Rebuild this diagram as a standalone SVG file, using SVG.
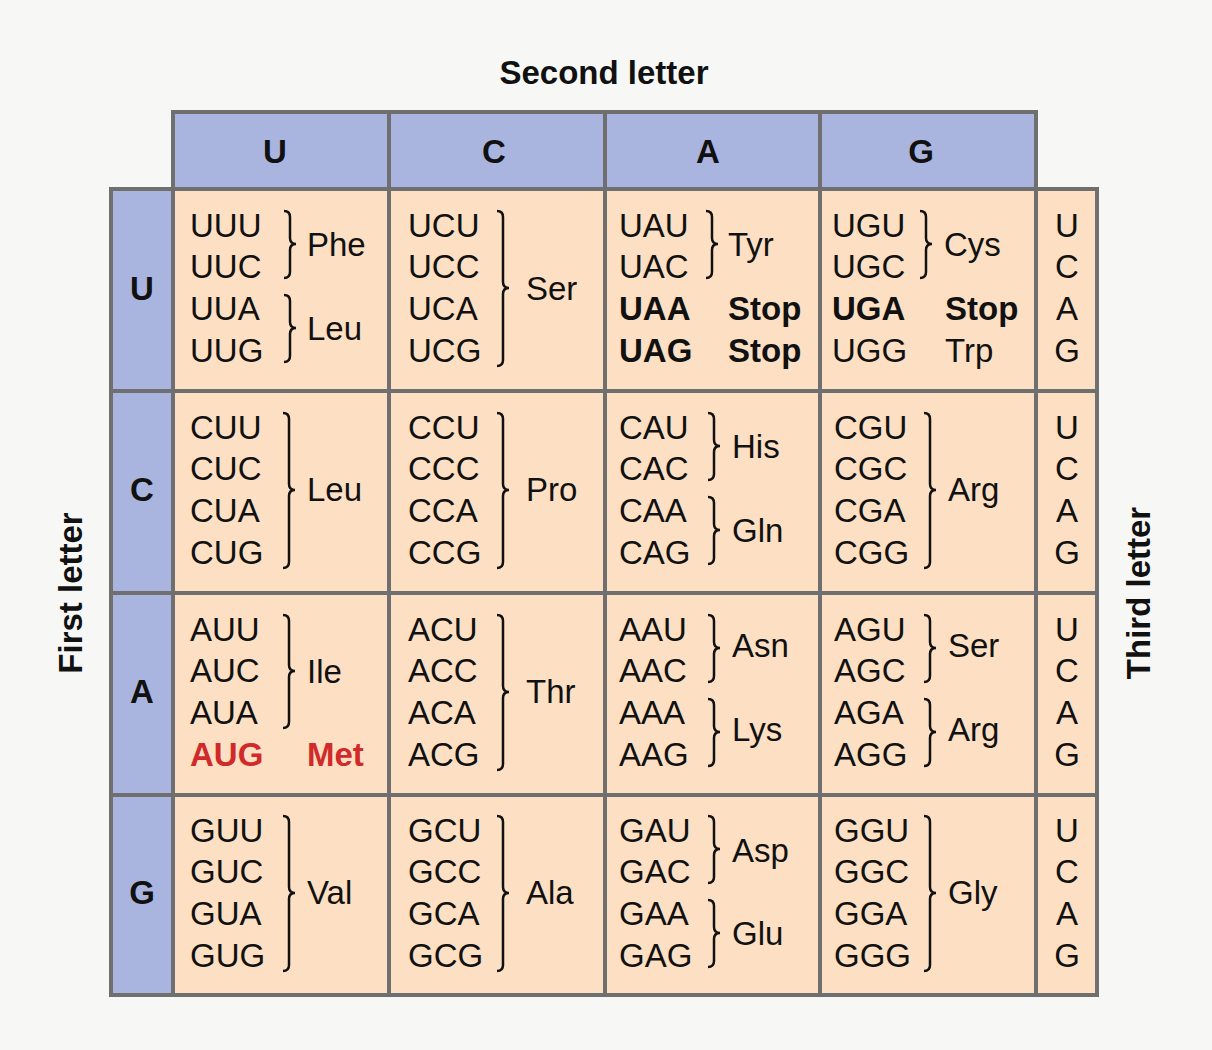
<svg xmlns="http://www.w3.org/2000/svg" width="1212" height="1050" viewBox="0 0 1212 1050">
<style>
text{font-family:"Liberation Sans",Arial,sans-serif;font-size:33px;fill:#111}
.b{font-weight:bold}
.h{font-weight:bold;text-anchor:middle}
.m{text-anchor:middle}
.r{fill:#d02a2a;font-weight:bold}
.hd{fill:#a9b5de;stroke:#6f6f6f;stroke-width:4}
.cl{fill:#fde0c4;stroke:#6f6f6f;stroke-width:4}
.br{fill:none;stroke:#111;stroke-width:2.5}
</style>
<rect width="1212" height="1050" fill="#f7f8f6"/>
<g id="titles">
<text class="h" x="604" y="84" font-size="35">Second letter</text>
<text class="h" transform="translate(82,593) rotate(-90)" font-size="35">First letter</text>
<text class="h" transform="translate(1150,593) rotate(-90)" font-size="35">Third letter</text>
</g>
<g id="headers">
<rect class="hd" x="173" y="112" width="216" height="77"/><text class="h" x="275" y="163">U</text>
<rect class="hd" x="389" y="112" width="216" height="77"/><text class="h" x="494" y="163">C</text>
<rect class="hd" x="605" y="112" width="215" height="77"/><text class="h" x="708" y="163">A</text>
<rect class="hd" x="820" y="112" width="216" height="77"/><text class="h" x="921" y="163">G</text>
<rect class="hd" x="111" y="189" width="62" height="202"/><text class="h" x="142" y="300">U</text>
<rect class="hd" x="111" y="391" width="62" height="202"/><text class="h" x="142" y="501">C</text>
<rect class="hd" x="111" y="593" width="62" height="202"/><text class="h" x="142" y="703">A</text>
<rect class="hd" x="111" y="795" width="62" height="200"/><text class="h" x="142" y="904">G</text>
</g>
<g id="cells">
<rect class="cl" x="173" y="189" width="216" height="202"/><rect class="cl" x="389" y="189" width="216" height="202"/><rect class="cl" x="605" y="189" width="215" height="202"/><rect class="cl" x="820" y="189" width="216" height="202"/><rect class="cl" x="1036" y="189" width="61" height="202"/>
<rect class="cl" x="173" y="391" width="216" height="202"/><rect class="cl" x="389" y="391" width="216" height="202"/><rect class="cl" x="605" y="391" width="215" height="202"/><rect class="cl" x="820" y="391" width="216" height="202"/><rect class="cl" x="1036" y="391" width="61" height="202"/>
<rect class="cl" x="173" y="593" width="216" height="202"/><rect class="cl" x="389" y="593" width="216" height="202"/><rect class="cl" x="605" y="593" width="215" height="202"/><rect class="cl" x="820" y="593" width="216" height="202"/><rect class="cl" x="1036" y="593" width="61" height="202"/>
<rect class="cl" x="173" y="795" width="216" height="200"/><rect class="cl" x="389" y="795" width="216" height="200"/><rect class="cl" x="605" y="795" width="215" height="200"/><rect class="cl" x="820" y="795" width="216" height="200"/><rect class="cl" x="1036" y="795" width="61" height="200"/>
</g>
<g id="third">
<text class="m" x="1067" y="237">U</text><text class="m" x="1067" y="278">C</text><text class="m" x="1067" y="320">A</text><text class="m" x="1067" y="362">G</text>
<text class="m" x="1067" y="439">U</text><text class="m" x="1067" y="480">C</text><text class="m" x="1067" y="522">A</text><text class="m" x="1067" y="564">G</text>
<text class="m" x="1067" y="641">U</text><text class="m" x="1067" y="682">C</text><text class="m" x="1067" y="724">A</text><text class="m" x="1067" y="766">G</text>
<text class="m" x="1067" y="842">U</text><text class="m" x="1067" y="883">C</text><text class="m" x="1067" y="925">A</text><text class="m" x="1067" y="967">G</text>
</g>
<g id="rowU">
<text x="190" y="237">UUU</text><text x="190" y="278">UUC</text><text x="190" y="320">UUA</text><text x="190" y="362">UUG</text>
<text x="307" y="256">Phe</text><text x="307" y="340">Leu</text>
<text x="408" y="237">UCU</text><text x="408" y="278">UCC</text><text x="408" y="320">UCA</text><text x="408" y="362">UCG</text>
<text x="526" y="300">Ser</text>
<text x="619" y="237">UAU</text><text x="619" y="278">UAC</text><text class="b" x="619" y="320">UAA</text><text class="b" x="619" y="362">UAG</text>
<text x="728" y="256">Tyr</text><text class="b" x="728" y="320">Stop</text><text class="b" x="728" y="362">Stop</text>
<text x="832" y="237">UGU</text><text x="832" y="278">UGC</text><text class="b" x="832" y="320">UGA</text><text x="832" y="362">UGG</text>
<text x="944" y="256">Cys</text><text class="b" x="945" y="320">Stop</text><text x="945" y="362">Trp</text>
</g>
<g id="rowC">
<text x="190" y="439">CUU</text><text x="190" y="480">CUC</text><text x="190" y="522">CUA</text><text x="190" y="564">CUG</text><text x="307" y="501">Leu</text>
<text x="408" y="439">CCU</text><text x="408" y="480">CCC</text><text x="408" y="522">CCA</text><text x="408" y="564">CCG</text><text x="526" y="501">Pro</text>
<text x="619" y="439">CAU</text><text x="619" y="480">CAC</text><text x="619" y="522">CAA</text><text x="619" y="564">CAG</text><text x="732" y="458">His</text><text x="732" y="542">Gln</text>
<text x="834" y="439">CGU</text><text x="834" y="480">CGC</text><text x="834" y="522">CGA</text><text x="834" y="564">CGG</text><text x="948" y="501">Arg</text>
</g>
<g id="rowA">
<text x="190" y="641">AUU</text><text x="190" y="682">AUC</text><text x="190" y="724">AUA</text><text class="r" x="190" y="766">AUG</text><text x="307" y="683">Ile</text><text class="r" x="307" y="766">Met</text>
<text x="408" y="641">ACU</text><text x="408" y="682">ACC</text><text x="408" y="724">ACA</text><text x="408" y="766">ACG</text><text x="526" y="703">Thr</text>
<text x="619" y="641">AAU</text><text x="619" y="682">AAC</text><text x="619" y="724">AAA</text><text x="619" y="766">AAG</text><text x="732" y="657">Asn</text><text x="732" y="741">Lys</text>
<text x="834" y="641">AGU</text><text x="834" y="682">AGC</text><text x="834" y="724">AGA</text><text x="834" y="766">AGG</text><text x="948" y="657">Ser</text><text x="948" y="741">Arg</text>
</g>
<g id="rowG">
<text x="190" y="842">GUU</text><text x="190" y="883">GUC</text><text x="190" y="925">GUA</text><text x="190" y="967">GUG</text><text x="307" y="904">Val</text>
<text x="408" y="842">GCU</text><text x="408" y="883">GCC</text><text x="408" y="925">GCA</text><text x="408" y="967">GCG</text><text x="526" y="904">Ala</text>
<text x="619" y="842">GAU</text><text x="619" y="883">GAC</text><text x="619" y="925">GAA</text><text x="619" y="967">GAG</text><text x="732" y="862">Asp</text><text x="732" y="945">Glu</text>
<text x="834" y="842">GGU</text><text x="834" y="883">GGC</text><text x="834" y="925">GGA</text><text x="834" y="967">GGG</text><text x="948" y="904">Gly</text>
</g>
<g id="connectors">
<path class="br" d="M284 211Q290 211 290 217L290 238Q290 244 296 244Q290 244 290 250L290 272Q290 278 284 278M284 295Q290 295 290 301L290 322Q290 328 296 328Q290 328 290 334L290 356Q290 362 284 362"/>
<path class="br" d="M497 211Q503 211 503 217L503 282Q503 288 509 288Q503 288 503 294L503 360Q503 366 497 366"/>
<path class="br" d="M706 211Q712 211 712 217L712 238Q712 244 718 244Q712 244 712 250L712 272Q712 278 706 278"/>
<path class="br" d="M920 211Q926 211 926 217L926 238Q926 244 932 244Q926 244 926 250L926 272Q926 278 920 278"/>
<path class="br" d="M283 413Q289 413 289 419L289 484Q289 490 295 490Q289 490 289 496L289 562Q289 568 283 568"/>
<path class="br" d="M497 413Q503 413 503 419L503 484Q503 490 509 490Q503 490 503 496L503 562Q503 568 497 568"/>
<path class="br" d="M708 413Q714 413 714 419L714 440Q714 446 720 446Q714 446 714 452L714 474Q714 480 708 480M708 497Q714 497 714 503L714 524Q714 530 720 530Q714 530 714 536L714 558Q714 564 708 564"/>
<path class="br" d="M924 413Q930 413 930 419L930 484Q930 490 936 490Q930 490 930 496L930 562Q930 568 924 568"/>
<path class="br" d="M283 615Q289 615 289 621L289 665Q289 671 295 671Q289 671 289 677L289 722Q289 728 283 728"/>
<path class="br" d="M497 615Q503 615 503 621L503 686Q503 692 509 692Q503 692 503 698L503 764Q503 770 497 770"/>
<path class="br" d="M708 615Q714 615 714 621L714 642Q714 648 720 648Q714 648 714 654L714 676Q714 682 708 682M708 699Q714 699 714 705L714 726Q714 732 720 732Q714 732 714 738L714 760Q714 766 708 766"/>
<path class="br" d="M924 615Q930 615 930 621L930 642Q930 648 936 648Q930 648 930 654L930 676Q930 682 924 682M924 699Q930 699 930 705L930 726Q930 732 936 732Q930 732 930 738L930 760Q930 766 924 766"/>
<path class="br" d="M283 816Q289 816 289 822L289 887Q289 893 295 893Q289 893 289 899L289 965Q289 971 283 971"/>
<path class="br" d="M497 816Q503 816 503 822L503 887Q503 893 509 893Q503 893 503 899L503 965Q503 971 497 971"/>
<path class="br" d="M708 816Q714 816 714 822L714 843Q714 849 720 849Q714 849 714 855L714 877Q714 883 708 883M708 900Q714 900 714 906L714 927Q714 933 720 933Q714 933 714 939L714 961Q714 967 708 967"/>
<path class="br" d="M924 816Q930 816 930 822L930 887Q930 893 936 893Q930 893 930 899L930 965Q930 971 924 971"/>
</g>
</svg>
